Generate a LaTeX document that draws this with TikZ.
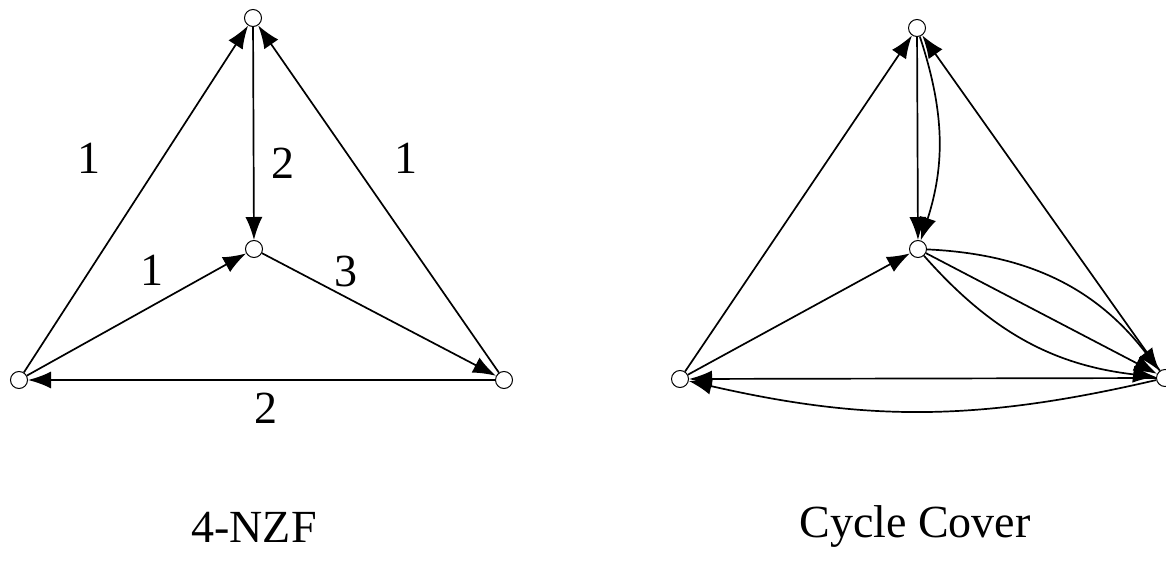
\documentclass[tikz,border=0pt]{standalone}
\usepackage{fontspec}
\setmainfont{Liberation Serif}
\usetikzlibrary{arrows.meta,positioning}

\tikzset{
  vtx/.style={circle, draw, fill=white, inner sep=0pt, minimum size=8.5pt, line width=0.5pt},
  arc/.style={line width=0.85pt, -{Latex[length=11.5pt,width=8.5pt]}},
  flow/.style={font=\fontsize{23}{26}\selectfont},
  caption/.style={font=\fontsize{23}{27}\selectfont}
}

\begin{document}
\begin{tikzpicture}[x=0.5pt, y=-0.5pt]
\useasboundingbox (0,0) rectangle (1166,577);

% === 4-NZF ===
\node[vtx] (t1) at (253,18) {};
\node[vtx] (c1) at (254,249) {};
\node[vtx] (l1) at (19,380) {};
\node[vtx] (r1) at (504,380) {};

\draw[arc] (l1) -- (t1);
\draw[arc] (r1) -- (t1);
\draw[arc] (t1) -- (c1);
\draw[arc] (l1) -- (c1);
\draw[arc] (c1) -- (r1);
\draw[arc] (r1) -- (l1);

% flow values
\node[flow] (f1) at (89,158) {1};
\node[flow] (f2) at (283,163) {2};
\node[flow] (f3) at (406,158) {1};
\node[flow] (f4) at (152,270) {1};
\node[flow] (f5) at (346,271) {3};
\node[flow] (f6) at (266,408) {2};

\node[caption] (cap1) at (254,527) {4-NZF};

% === Cycle Cover ===
\node[vtx] (t2) at (917,28) {};
\node[vtx] (c2) at (918,249) {};
\node[vtx] (l2) at (680,379) {};
\node[vtx] (r2) at (1165,378) {};

\draw[arc] (l2) -- (t2);
\draw[arc] (r2) -- (t2);
\draw[arc] (t2) -- (c2);
\draw[arc] (t2) to[bend left=18] (c2);
\draw[arc] (l2) -- (c2);
\draw[arc] (c2) to[bend left=25] (r2);
\draw[arc] (c2) -- (r2);
\draw[arc] (c2) to[bend right=21] (r2);
\draw[arc] (r2) -- (l2);
\draw[arc] (r2) to[bend left=13] (l2);

\node[caption] (cap2) at (915,527) {Cycle Cover};

\end{tikzpicture}
\end{document}
